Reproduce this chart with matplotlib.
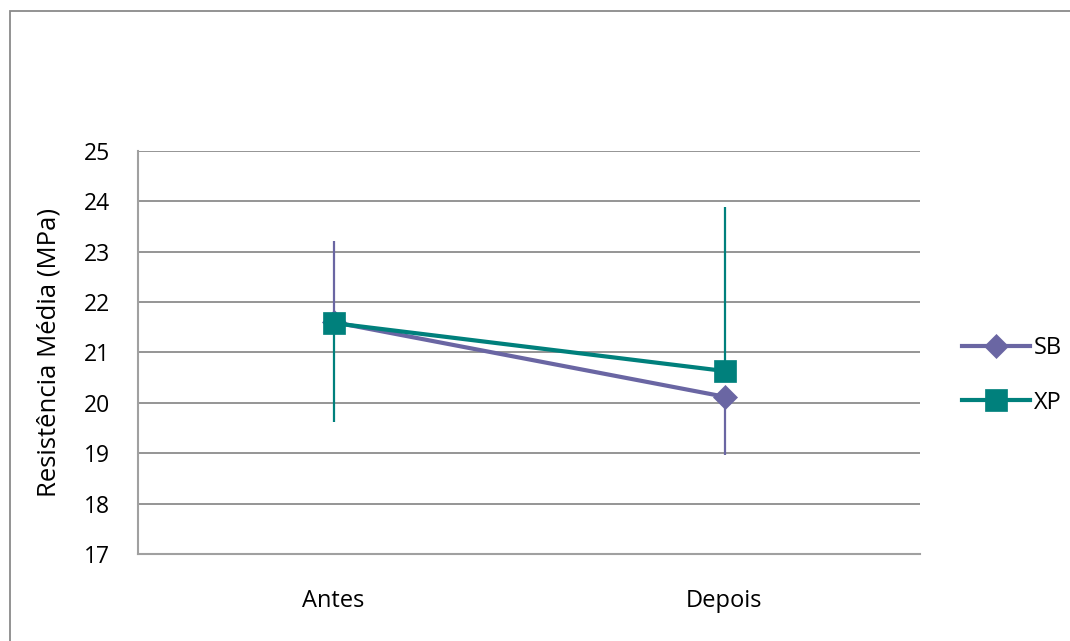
import matplotlib
matplotlib.use("Agg")
import matplotlib.pyplot as plt
from matplotlib.patches import Rectangle

plt.rcParams['font.family'] = ['Open Sans', 'DejaVu Sans']

categories = ["Antes", "Depois"]
series_names = ["SB", "XP"]

sb_mean = [21.6, 20.12]
sb_err_low = [0.0, 1.16]
sb_err_high = [1.6, 0.0]

xp_mean = [21.58, 20.63]
xp_err_low = [1.96, 0.0]
xp_err_high = [0.0, 3.25]

y_ticks = [17, 18, 19, 20, 21, 22, 23, 24, 25]

sb_color = "#6A66A3"
xp_color = "#00807C"
grid_color = "#8C8C8C"

fig = plt.figure(figsize=(10.70, 6.41), dpi=100)
ax = fig.add_axes([138 / 1070, 87 / 641, 782 / 1070, 403.3 / 641])

# Outer chart frame
fig.patches.append(Rectangle((10 / 1070, -0.2), 1.5, 1.2 + (641 - 11) / 641 - 1.0,
                             transform=fig.transFigure, fill=False,
                             edgecolor="#8A8A8A", linewidth=1.3))

x = list(range(len(categories)))

# Error bars first, markers and lines on top
ax.errorbar(x, sb_mean, yerr=[sb_err_low, sb_err_high], fmt="none",
            ecolor=sb_color, elinewidth=1.6, capsize=0, zorder=2)
ax.errorbar(x, xp_mean, yerr=[xp_err_low, xp_err_high], fmt="none",
            ecolor=xp_color, elinewidth=1.6, capsize=0, zorder=2)

ax.plot(x, sb_mean, color=sb_color, linewidth=3, marker="D", markersize=12,
        markeredgewidth=0.5, label=series_names[0], zorder=3)
ax.plot(x, xp_mean, color=xp_color, linewidth=3, marker="s", markersize=15.5,
        markeredgewidth=0.5, label=series_names[1], zorder=4)

ax.set_xlim(-0.5, 1.5)
ax.set_ylim(17, 25)
ax.set_yticks(y_ticks)
ax.set_xticks(x)
ax.set_xticklabels(categories)
ax.tick_params(axis="both", length=0, labelsize=16.5, colors="black")
ax.tick_params(axis="y", pad=20)
ax.tick_params(axis="x", pad=25)
for lbl in ax.get_xticklabels():
    lbl.set_fontsize(17)

ax.yaxis.grid(True, color=grid_color, linewidth=1.3)
ax.set_axisbelow(True)
for side in ["top", "right"]:
    ax.spines[side].set_visible(False)
for side in ["left", "bottom"]:
    ax.spines[side].set_color("#A0A0A0")
    ax.spines[side].set_linewidth(1.5)

ax.set_ylabel("Resistência Média (MPa)", fontsize=18.5, labelpad=16)

ax.legend(loc="center left", bbox_to_anchor=(1.041, 0.443), frameon=False,
          fontsize=17, handlelength=2.9, handletextpad=0.15,
          labelspacing=1.3, borderaxespad=0)

fig.savefig("out.png", dpi=100)
